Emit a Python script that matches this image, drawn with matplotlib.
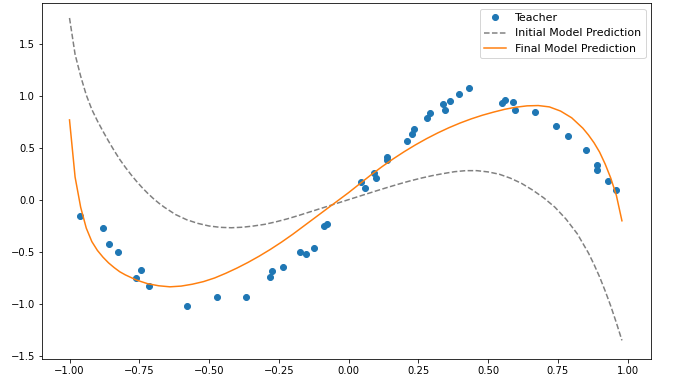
import matplotlib
matplotlib.use("Agg")
import matplotlib.pyplot as plt

# Teacher data points
teacher_x = [-0.962, -0.881, -0.860, -0.825, -0.762, -0.743, -0.715, -0.579, -0.471, -0.367,
             -0.283, -0.273, -0.235, -0.173, -0.152, -0.125, -0.088, -0.077,
             0.044, 0.059, 0.090, 0.099, 0.138, 0.138, 0.208, 0.226, 0.234,
             0.283, 0.292, 0.337, 0.345, 0.364, 0.395, 0.431,
             0.551, 0.561, 0.588, 0.598, 0.670, 0.743, 0.787, 0.852, 0.891, 0.891, 0.929, 0.959]
teacher_y = [-0.154, -0.269, -0.426, -0.500, -0.750, -0.670, -0.824, -1.016, -0.930, -0.930,
             -0.744, -0.686, -0.648, -0.500, -0.520, -0.458, -0.247, -0.228,
             0.170, 0.118, 0.257, 0.212, 0.417, 0.380, 0.570, 0.630, 0.680,
             0.790, 0.833, 0.926, 0.865, 0.955, 1.022, 1.074,
             0.930, 0.960, 0.940, 0.865, 0.843, 0.708, 0.615, 0.478, 0.340, 0.290, 0.183, 0.100]

# Initial model prediction
init_x = [-1.00, -0.98, -0.96, -0.94, -0.92, -0.90, -0.88, -0.86, -0.84, -0.82, -0.80, -0.78,
          -0.76, -0.74, -0.72, -0.70, -0.68, -0.66, -0.62, -0.58, -0.54, -0.50, -0.46, -0.42,
          -0.38, -0.34, -0.30, -0.26, -0.22, -0.18, -0.14, -0.10, -0.06, -0.02, 0.02, 0.06,
          0.10, 0.14, 0.18, 0.22, 0.26, 0.30, 0.34, 0.38, 0.42, 0.46, 0.50, 0.54, 0.58, 0.62,
          0.66, 0.70, 0.74, 0.78, 0.82, 0.86, 0.88, 0.90, 0.92, 0.94, 0.96, 0.98]
init_y = [1.75, 1.40, 1.19, 1.01, 0.87, 0.76, 0.66, 0.565, 0.475, 0.39, 0.315, 0.245,
          0.18, 0.12, 0.065, 0.015, -0.03, -0.07, -0.14, -0.19, -0.225, -0.25, -0.263, -0.267,
          -0.262, -0.25, -0.234, -0.21, -0.182, -0.15, -0.116, -0.082, -0.048, -0.014, 0.02, 0.054,
          0.088, 0.121, 0.153, 0.183, 0.21, 0.234, 0.254, 0.272, 0.282, 0.282, 0.27, 0.248, 0.21, 0.16,
          0.095, 0.02, -0.07, -0.185, -0.325, -0.51, -0.62, -0.74, -0.875, -1.02, -1.18, -1.35]

# Final model prediction
final_x = [-1.00, -0.98, -0.96, -0.94, -0.92, -0.90, -0.88, -0.86, -0.84, -0.82, -0.80, -0.76,
           -0.72, -0.68, -0.64, -0.60, -0.56, -0.52, -0.48, -0.44, -0.40, -0.36, -0.32, -0.28,
           -0.24, -0.20, -0.16, -0.12, -0.08, -0.04, 0.00, 0.04, 0.08, 0.12, 0.16, 0.20, 0.24,
           0.28, 0.32, 0.36, 0.40, 0.44, 0.48, 0.52, 0.56, 0.60, 0.64, 0.68, 0.72, 0.76, 0.80,
           0.84, 0.86, 0.88, 0.90, 0.92, 0.94, 0.96, 0.98]
final_y = [0.77, 0.22, -0.07, -0.27, -0.40, -0.485, -0.55, -0.605, -0.65, -0.69, -0.72, -0.77,
           -0.805, -0.825, -0.835, -0.828, -0.81, -0.785, -0.75, -0.705, -0.655, -0.60, -0.54, -0.475,
           -0.405, -0.33, -0.25, -0.17, -0.09, -0.01, 0.07, 0.155, 0.24, 0.32, 0.395, 0.465, 0.53,
           0.59, 0.645, 0.695, 0.74, 0.78, 0.815, 0.845, 0.872, 0.892, 0.905, 0.908, 0.895, 0.855, 0.79,
           0.69, 0.625, 0.55, 0.46, 0.345, 0.21, 0.045, -0.20]

fig = plt.figure(figsize=(682 / 72, 390 / 72), dpi=72)
ax = fig.add_axes([42 / 682, 31 / 390, 609 / 682, 356 / 390])

ax.plot(teacher_x, teacher_y, "o", color="C0", label="Teacher")
ax.plot(init_x, init_y, "--", color="gray", label="Initial Model Prediction")
ax.plot(final_x, final_y, "-", color="C1", label="Final Model Prediction")

ax.set_xlim(-1.0986, 1.0842)
ax.set_ylim(-1.529, 1.894)
ax.set_xticks([-1.0, -0.75, -0.5, -0.25, 0.0, 0.25, 0.5, 0.75, 1.0])
ax.set_yticks([-1.5, -1.0, -0.5, 0.0, 0.5, 1.0, 1.5])
ax.legend(loc="upper right", fontsize=11)

fig.savefig("out.png", dpi=72)
